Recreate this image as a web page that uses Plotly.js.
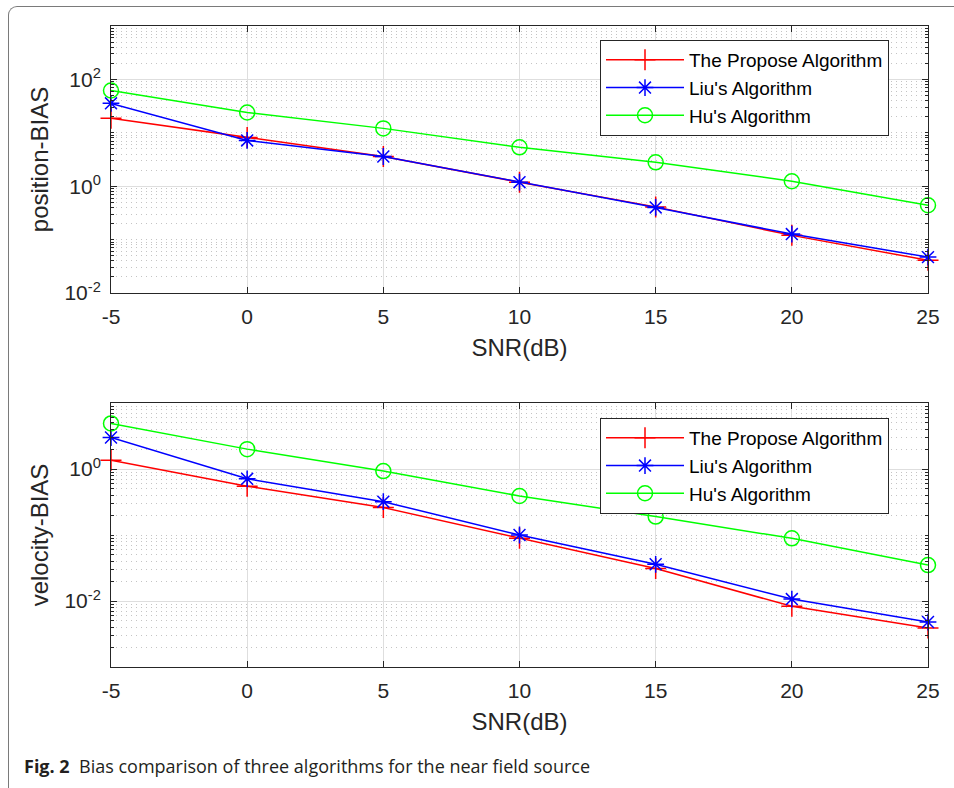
<!DOCTYPE html>
<html>
<head>
<meta charset="utf-8">
<script src="https://cdn.plot.ly/plotly-3.0.1.min.js"></script>
<style>
  html, body { margin: 0; padding: 0; background: #fff; }
  #wrap { position: relative; width: 954px; height: 788px; overflow: hidden; }
  #chart { position: absolute; left: 0; top: 0; width: 954px; height: 788px; }
  #frame { position: absolute; left: 8px; top: 6px; width: 980px; height: 790px;
           border-top: 1.5px solid #7a7a7a; border-left: 1.5px solid #7a7a7a;
           border-top-left-radius: 9px; border-bottom-left-radius: 9px; pointer-events: none; }
</style>
</head>
<body>
<div id="wrap">
  <div id="chart"></div>
  <div id="frame"></div>
</div>
<script>
// ---- data ----
const snr = [-5, 0, 5, 10, 15, 20, 25];
const seriesNames = ["The Propose Algorithm", "Liu's Algorithm", "Hu's Algorithm"];

const posProposed = [18.7, 8.2, 3.6, 1.19, 0.41, 0.12, 0.041];
const posLiu      = [35.6, 7.2, 3.6, 1.19, 0.40, 0.127, 0.047];
const posHu       = [62, 24, 12.1, 5.35, 2.8, 1.24, 0.44];

const velProposed = [1.36, 0.55, 0.26, 0.089, 0.031, 0.0083, 0.0039];
const velLiu      = [3.0, 0.71, 0.32, 0.10, 0.036, 0.0107, 0.0048];
const velHu       = [4.9, 2.0, 0.93, 0.39, 0.19, 0.089, 0.035];

const xTickVals = [-5, 0, 5, 10, 15, 20, 25];
const xTickText = ["-5", "0", "5", "10", "15", "20", "25"];
const posTickVals = [0.01, 1, 100];
const posTickText = ["10<sup>-2</sup>", "10<sup>0</sup>", "10<sup>2</sup>"];
const velTickVals = [0.01, 1];
const velTickText = ["10<sup>-2</sup>", "10<sup>0</sup>"];

// ---- styling ----
const FONT = "Liberation Sans, Arial, Helvetica, sans-serif";
const AXC = "#262626";
const GRID = "#dedede";
const colors = ["#ff0000", "#0000ff", "#00ff00"];
const symbols = ["cross-thin-open", "asterisk-open", "circle-open"];
const msizes = [15, 14, 15];

function minorVals(lo, hi) {
  const v = [];
  for (let e = lo; e < hi; e++) {
    for (let m = 1; m <= 9; m++) v.push(m * Math.pow(10, e));
  }
  v.push(Math.pow(10, hi));
  return v;
}

function mkTrace(y, i, xa, ya, leg) {
  return {
    x: snr, y: y, name: seriesNames[i], type: "scatter", mode: "lines+markers",
    xaxis: xa, yaxis: ya, legend: leg, cliponaxis: false,
    line: { color: colors[i], width: 1.5 },
    marker: { symbol: symbols[i], size: msizes[i], color: colors[i],
              line: { color: colors[i], width: 1.5 } }
  };
}

const posSeries = [posProposed, posLiu, posHu];
const velSeries = [velProposed, velLiu, velHu];
const data = [];
posSeries.forEach((s, i) => data.push(mkTrace(s, i, "x", "y", "legend")));
velSeries.forEach((s, i) => data.push(mkTrace(s, i, "x2", "y2", "legend2")));

function xAxis(anchor) {
  return {
    anchor: anchor, domain: [111/954, 928/954], range: [-5, 25],
    tickmode: "array", tickvals: xTickVals, ticktext: xTickText,
    ticks: "inside", ticklen: 6, tickwidth: 1, tickcolor: AXC,
    showline: true, linecolor: AXC, linewidth: 1, mirror: "ticks",
    showgrid: true, gridcolor: GRID, gridwidth: 1, zeroline: false,
    tickfont: { family: FONT, size: 21, color: "#262626" },
    ticklabelstandoff: 5,
    title: { text: "SNR(dB)", font: { family: FONT, size: 24, color: "#262626" }, standoff: 11 }
  };
}
function yAxis(anchor, dom, rng, tv, tt, ttl, lo, hi) {
  return {
    anchor: anchor, domain: dom, type: "log", range: rng,
    tickmode: "array", tickvals: tv, ticktext: tt,
    ticks: "inside", ticklen: 6, tickwidth: 1, tickcolor: AXC,
    showline: true, linecolor: AXC, linewidth: 1, mirror: "ticks",
    showgrid: true, gridcolor: GRID, gridwidth: 1, zeroline: false,
    tickfont: { family: FONT, size: 21, color: "#262626" },
    ticklabelstandoff: 5,
    minor: { tickmode: "array", tickvals: minorVals(lo, hi), ticks: "inside", ticklen: 3,
             tickcolor: AXC, showgrid: true, gridcolor: "#c4c4c4", griddash: "1px,4px", gridwidth: 1 },
    title: { text: ttl, font: { family: FONT, size: 24, color: "#262626" }, standoff: 8 }
  };
}

function legendCfg(ytop) {
  return {
    x: 600/954, y: 1 - ytop/788, xanchor: "left", yanchor: "top",
    bgcolor: "#ffffff", bordercolor: "#262626", borderwidth: 1,
    font: { family: FONT, size: 19, color: "#000" },
    itemwidth: 78, tracegroupgap: 0
  };
}

const layout = {
  width: 954, height: 788,
  margin: { l: 0, r: 0, t: 0, b: 0 },
  paper_bgcolor: "#ffffff", plot_bgcolor: "#ffffff",
  showlegend: true,
  xaxis: xAxis("y"),
  yaxis: yAxis("x", [1 - 293/788, 1 - 26/788], [-2, 3], posTickVals, posTickText, "position-BIAS", -2, 3),
  xaxis2: xAxis("y2"),
  yaxis2: yAxis("x2", [1 - 667/788, 1 - 403/788], [-3, 1], velTickVals, velTickText, "velocity-BIAS", -3, 1),
  legend: legendCfg(40),
  legend2: legendCfg(418),
  annotations: [{
    xref: "paper", yref: "paper", x: 22/954, y: 1 - 766/788, xanchor: "left", yanchor: "middle",
    showarrow: false, align: "left",
    text: "<b>Fig. 2</b>  Bias comparison of three algorithms for the near field source",
    font: { family: "Open Sans, sans-serif", size: 18, color: "#231f20" }
  }]
};

Plotly.newPlot("chart", data, layout, { displayModeBar: false, staticPlot: true });
</script>
</body>
</html>
